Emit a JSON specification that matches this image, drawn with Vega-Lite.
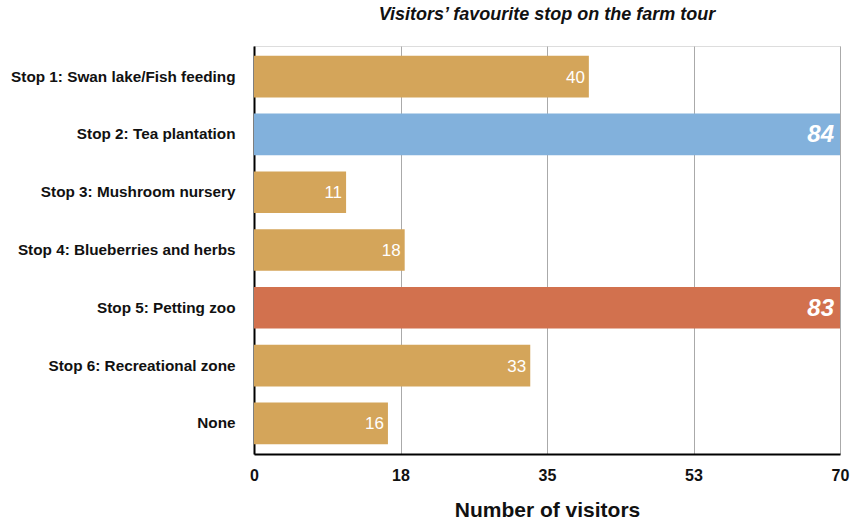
{
  "$schema": "https://vega.github.io/schema/vega-lite/v6.json",
  "autosize": "none",
  "width": 586,
  "height": 408,
  "padding": {"left": 254, "top": 46, "right": 15, "bottom": 70},
  "background": "white",
  "title": {
    "text": "Visitors’ favourite stop on the farm tour",
    "font": "Liberation Sans",
    "fontSize": 18,
    "fontWeight": "bold",
    "fontStyle": "italic",
    "color": "#111",
    "anchor": "middle",
    "offset": 22
  },
  "data": {
    "values": [
      {"stop": "Stop 1: Swan lake/Fish feeding", "visitors": 40, "group": "other"},
      {"stop": "Stop 2: Tea plantation", "visitors": 84, "group": "tea"},
      {"stop": "Stop 3: Mushroom nursery", "visitors": 11, "group": "other"},
      {"stop": "Stop 4: Blueberries and herbs", "visitors": 18, "group": "other"},
      {"stop": "Stop 5: Petting zoo", "visitors": 83, "group": "zoo"},
      {"stop": "Stop 6: Recreational zone", "visitors": 33, "group": "other"},
      {"stop": "None", "visitors": 16, "group": "other"}
    ]
  },
  "encoding": {
    "y": {
      "field": "stop",
      "type": "nominal",
      "sort": null,
      "scale": {"paddingInner": 0.28, "paddingOuter": 0.17},
      "axis": {
        "title": null,
        "labelFont": "Liberation Sans",
        "labelFontSize": 15.3,
        "labelFontWeight": "bold",
        "labelColor": "#111",
        "labelPadding": 19,
        "ticks": false,
        "domainColor": "#000",
        "domainWidth": 2,
        "labelLimit": 300
      }
    },
    "x": {
      "field": "visitors",
      "type": "quantitative",
      "scale": {"domain": [0, 70], "clamp": true, "nice": false},
      "axis": {
        "values": [0, 17.5, 35, 52.5, 70],
        "format": ".0f",
        "title": "Number of visitors",
        "titleFont": "Liberation Sans",
        "titleFontSize": 21,
        "titleFontWeight": "bold",
        "titleColor": "#111",
        "titlePadding": 16,
        "labelFont": "Liberation Sans",
        "labelFontSize": 16,
        "labelFontWeight": "bold",
        "labelColor": "#111",
        "labelPadding": 13,
        "labelFlush": false,
        "ticks": false,
        "grid": true,
        "gridColor": "#aaaaaa",
        "gridWidth": 1,
        "domainColor": "#000",
        "domainWidth": 2
      }
    }
  },
  "layer": [
    {
      "mark": {"type": "bar", "clip": true},
      "encoding": {
        "color": {
          "field": "group",
          "type": "nominal",
          "scale": {"domain": ["other", "tea", "zoo"], "range": ["#D4A55A", "#82B1DC", "#D2714E"]},
          "legend": null
        }
      }
    },
    {
      "transform": [{"filter": "datum.visitors <= 70"}],
      "mark": {"type": "text", "align": "right", "baseline": "middle", "dx": -4, "dy": 1, "color": "white", "font": "Liberation Sans", "fontSize": 17},
      "encoding": {
        "text": {"field": "visitors", "type": "quantitative"}
      }
    },
    {
      "transform": [{"filter": "datum.visitors > 70"}],
      "mark": {"type": "text", "align": "right", "baseline": "middle", "dx": -6, "dy": 1, "color": "white", "font": "Liberation Sans", "fontSize": 24, "fontWeight": "bold", "fontStyle": "italic"},
      "encoding": {
        "text": {"field": "visitors", "type": "quantitative"}
      }
    }
  ]
}
